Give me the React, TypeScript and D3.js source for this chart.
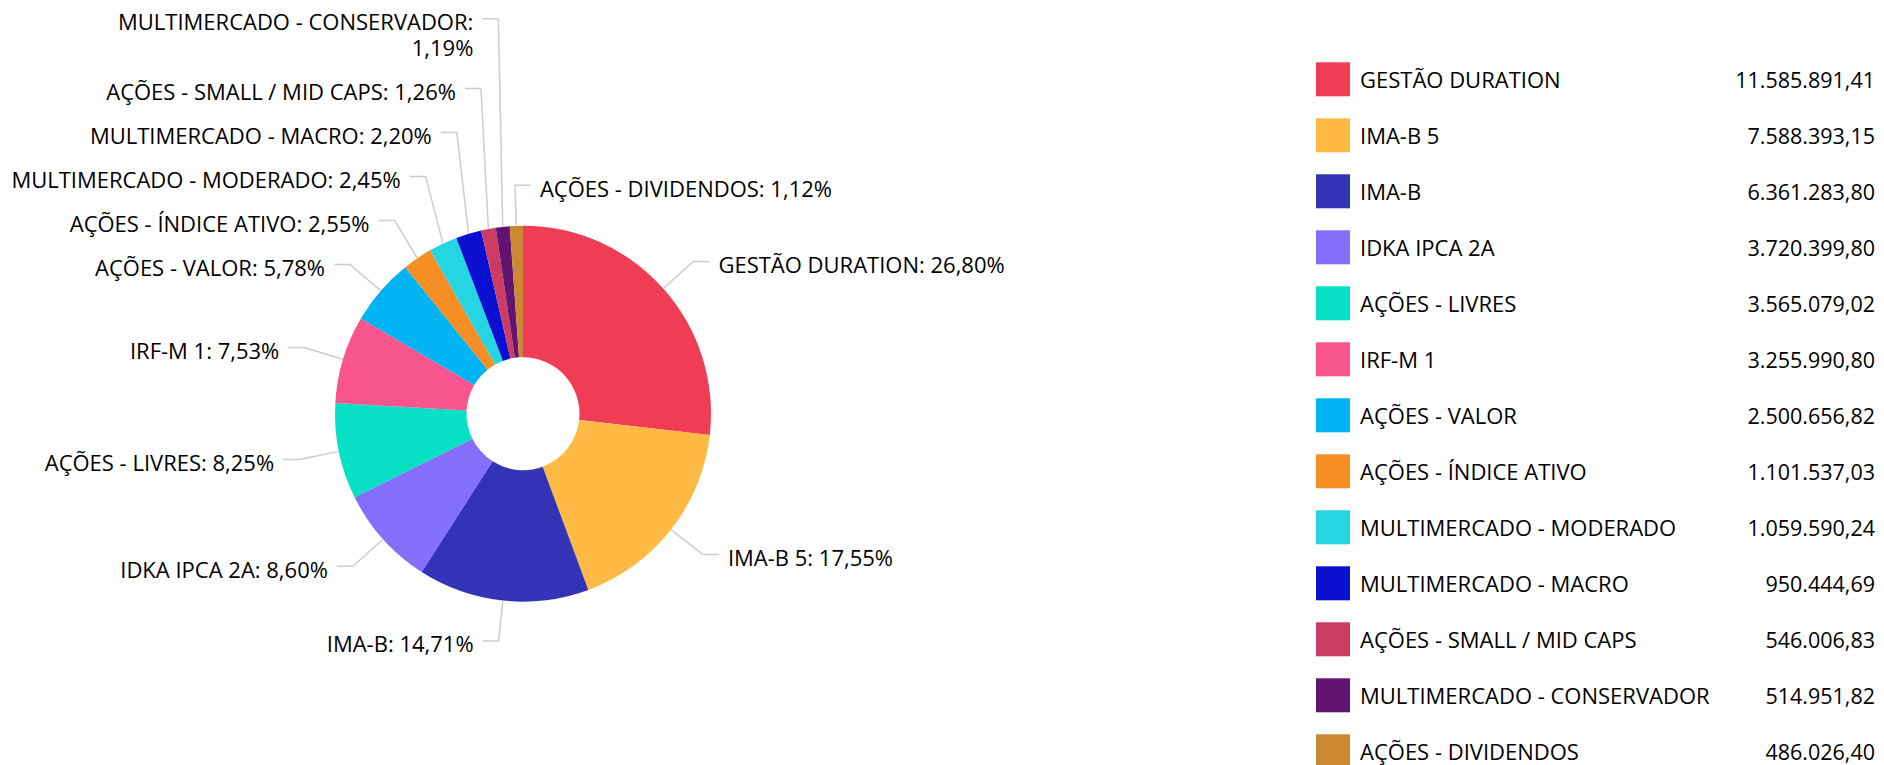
import React from "react";
import * as d3 from "d3";

const categories = [
  "GESTÃO DURATION",
  "IMA-B 5",
  "IMA-B",
  "IDKA IPCA 2A",
  "AÇÕES - LIVRES",
  "IRF-M 1",
  "AÇÕES - VALOR",
  "AÇÕES - ÍNDICE ATIVO",
  "MULTIMERCADO - MODERADO",
  "MULTIMERCADO - MACRO",
  "AÇÕES - SMALL / MID CAPS",
  "MULTIMERCADO - CONSERVADOR",
  "AÇÕES - DIVIDENDOS",
];

const values = [
  11585891.41, 7588393.15, 6361283.8, 3720399.8, 3565079.02, 3255990.8,
  2500656.82, 1101537.03, 1059590.24, 950444.69, 546006.83, 514951.82,
  486026.4,
];

const colors = [
  "#EE3D55",
  "#FFBA45",
  "#3333B5",
  "#836FFA",
  "#07E0C4",
  "#F8558E",
  "#00B3F2",
  "#F68E26",
  "#26D5E2",
  "#0A0FD2",
  "#CB3B62",
  "#611570",
  "#CC8833",
];

const W = 1884;
const H = 765;
const FONT = "'Open Sans', sans-serif";
const FS = 22;
const FS_VAL = 21.5;

const locale = d3.formatLocale({
  decimal: ",",
  thousands: ".",
  grouping: [3],
  currency: ["R$", ""],
});
const fmtValue = locale.format(",.2f");
const fmtPct = locale.format(".2f");

let measureCtx: CanvasRenderingContext2D | null = null;
function measure(t: string): number {
  if (!measureCtx) {
    const c = document.createElement("canvas");
    measureCtx = c.getContext("2d");
  }
  if (!measureCtx) return t.length * 12;
  measureCtx.font = `${FS}px ${FONT}`;
  return measureCtx.measureText(t).width;
}

function wrap(text: string, maxW: number): string[] {
  const words = text.split(" ");
  const lines: string[] = [];
  let cur = "";
  for (const w of words) {
    const test = cur ? cur + " " + w : w;
    if (cur && measure(test) > maxW) {
      lines.push(cur);
      cur = w;
    } else cur = test;
  }
  if (cur) lines.push(cur);
  return lines;
}

export default function App() {
  const cx = 523;
  const cy = 413.7;
  const r = 188;
  const r0 = 56.5;
  const R = 228.5;
  const lineH = 25.6;
  const boxH = 44;

  const total = d3.sum(values);
  const data = categories.map((c, i) => ({ name: c, value: values[i], color: colors[i] }));
  const pie = d3
    .pie<{ name: string; value: number; color: string }>()
    .value((d) => d.value)
    .sort(null)
    .startAngle(0)
    .endAngle(2 * Math.PI);
  const arcs = pie(data);
  const arcGen = d3
    .arc<d3.PieArcDatum<{ name: string; value: number; color: string }>>()
    .innerRadius(r0)
    .outerRadius(r);

  type Lab = {
    i: number;
    mid: number;
    left: boolean;
    lines: string[];
    ny: number;
    y: number;
    bx: number;
    tx: number;
    ty: number;
  };

  const labs: Lab[] = arcs.map((a, i) => {
    const mid = (a.startAngle + a.endAngle) / 2;
    const left = Math.sin(mid) < -0.05;
    const text = `${a.data.name}: ${fmtPct((a.data.value / total) * 100)}%`;
    const lines = wrap(text, 410);
    return {
      i,
      mid,
      left,
      lines,
      ny: cy - R * Math.cos(mid),
      y: 0,
      bx: cx + R * Math.sin(mid),
      tx: cx + r * Math.sin(mid),
      ty: cy - r * Math.cos(mid),
    };
  });

  // distribute each side: push labels up from bottom to avoid overlap
  [true, false].forEach((side) => {
    const group = labs.filter((l) => l.left === side).sort((a, b) => a.ny - b.ny);
    for (let k = group.length - 1; k >= 0; k--) {
      const l = group[k];
      const h = boxH + lineH * (l.lines.length - 1);
      if (k === group.length - 1) l.y = l.ny;
      else l.y = Math.min(l.ny, group[k + 1].y - h);
    }
    for (let k = 0; k < group.length; k++) {
      const l = group[k];
      if (k === 0) l.y = Math.max(l.y, 12);
      else {
        const p = group[k - 1];
        const hp = boxH + lineH * (p.lines.length - 1);
        l.y = Math.max(l.y, p.y + hp);
      }
    }
  });

  return (
    <div style={{ position: "absolute", left: 0, top: 0, width: W, height: H }}>
      <svg width={W} height={H} style={{ display: "block" }}>
        <rect width={W} height={H} fill="#ffffff" />
        <g transform={`translate(${cx},${cy})`}>
          {arcs.map((a, i) => (
            <path key={i} d={arcGen(a) || ""} fill={a.data.color} />
          ))}
        </g>
        {labs.map((l) => {
          const dir = l.left ? -1 : 1;
          const hx = l.bx + dir * 16;
          const textX = l.bx + dir * 25;
          return (
            <g key={l.i}>
              <path
                d={`M${l.tx},${l.ty}L${l.bx},${l.y}L${hx},${l.y}`}
                fill="none"
                stroke="#cccccc"
                strokeWidth={1.5}
              />
              <text
                x={textX}
                y={l.y + 11.5}
                fontFamily={FONT}
                fontSize={FS}
                fill="#000000"
                textAnchor={l.left ? "end" : "start"}
              >
                {l.lines.map((ln, k) => (
                  <tspan key={k} x={textX} dy={k === 0 ? 0 : lineH}>
                    {ln}
                  </tspan>
                ))}
              </text>
            </g>
          );
        })}
        <g>
          {data.map((d, i) => {
            const top = 62.3 + i * 56;
            return (
              <g key={i}>
                <rect x={1316} y={top} width={34} height={34} fill={d.color} />
                <text
                  x={1360}
                  y={top + 25.4}
                  fontFamily={FONT}
                  fontSize={FS}
                  fill="#000000"
                >
                  {d.name}
                </text>
                <text
                  x={1875}
                  y={top + 25.4}
                  fontFamily={FONT}
                  fontSize={FS_VAL}
                  fill="#000000"
                  textAnchor="end"
                >
                  {fmtValue(d.value)}
                </text>
              </g>
            );
          })}
        </g>
      </svg>
    </div>
  );
}
